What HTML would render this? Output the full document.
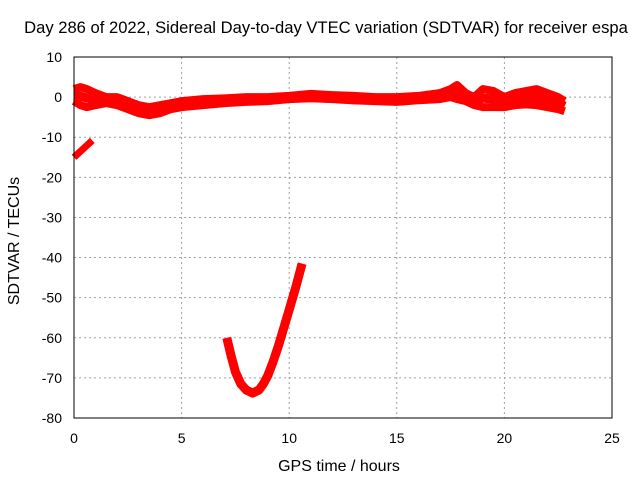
<!DOCTYPE html>
<html><head><meta charset="utf-8"><style>
body{margin:0;background:#fff}
svg text{font-family:"Liberation Sans",sans-serif;font-size:14px;fill:#000}
</style></head><body>
<svg width="640" height="480">
<rect width="640" height="480" fill="#fff"/>
<g id="grid"></g>
<g id="ticks"></g>
<g id="series"></g>
<rect x="74" y="57" width="538" height="361" fill="none" stroke="#000" stroke-width="1"/>
<text x="326" y="33" text-anchor="middle" style="font-size:16.6px">Day 286 of 2022, Sidereal Day-to-day VTEC variation (SDTVAR) for receiver espa</text>
<text x="339" y="471" text-anchor="middle" style="font-size:16px">GPS time / hours</text>
<text x="19" y="241" text-anchor="middle" transform="rotate(-90 19 241)" style="font-size:16px">SDTVAR / TECUs</text>
</svg>
<script>
const xTicks=[0,5,10,15,20,25];
const yTicks=[10,0,-10,-20,-30,-40,-50,-60,-70,-80];
const mainHours=[0,0.3,0.6,1,1.5,2,2.5,3,3.5,4,4.5,5,6,7,8,9,10,11,12,13,14,15,16,17,17.5,17.8,18.2,18.6,19,19.5,20,20.5,21,21.5,22,22.5,22.8];
const mainUpper=[2,2.5,2,1,0,0,-1,-2,-2.5,-2,-1.5,-1,-0.5,-0.3,0,0,0.3,0.8,0.5,0.3,0,0,0.3,1,2,3,1,0,2,1.5,0,1,1.5,2,1,0,-1];
const mainLower=[-1,-2,-2.5,-2,-1.5,-2,-3,-4,-4.5,-4,-3,-2.5,-2,-1.5,-1.2,-1,-0.5,-0.3,-0.5,-0.8,-1,-1.2,-0.8,-0.5,0,-0.5,-1,-2,-2.5,-2.5,-2.5,-2,-1.8,-2,-2.5,-3,-3.5];
const segHours=[0,0.85];
const segValues=[-15,-10.8];
const dipHours=[7.1,7.3,7.5,7.75,8,8.3,8.6,8.8,9,9.25,9.5,9.75,10,10.3,10.6];
const dipValues=[-60,-64.5,-68.5,-71.5,-73,-73.8,-73,-71.5,-69.5,-66,-62,-57.5,-53,-47.5,-41.5];
const NS="http://www.w3.org/2000/svg";
const X=h=>74+h*538/25, Y=v=>57+(10-v)*361/90;
const grid=document.getElementById('grid'),ticks=document.getElementById('ticks'),ser=document.getElementById('series');
function mk(t,a,p){const e=document.createElementNS(NS,t);for(const k in a)e.setAttribute(k,a[k]);p.appendChild(e);return e;}
xTicks.forEach(t=>{const x=X(t);
 if(t>0&&t<25){const g=mk('line',{x1:x,x2:x,y1:57,y2:418,stroke:'#a0a0a0','stroke-dasharray':'2,3'},grid);
 
 }
 const l=mk('text',{x:x,y:443,'text-anchor':'middle'},ticks);l.textContent=t;
 
 
});
yTicks.forEach(t=>{const y=Y(t);
 if(t<10&&t>-80){const g=mk('line',{x1:74,x2:612,y1:y,y2:y,stroke:'#a0a0a0','stroke-dasharray':'2,3'},grid);
 
 }
 const l=mk('text',{x:62,y:y+5,'text-anchor':'end'},ticks);l.textContent=t;
 
 
});
function line(hs,vs,w,name){const p=mk('polyline',{points:hs.map((h,i)=>X(h)+','+Y(vs[i])).join(' '),fill:'none',stroke:'#ff0000','stroke-width':w,'stroke-linejoin':'round','stroke-linecap':'butt'},ser);
 
 }
line(mainHours,mainUpper,8,'sdtvar-upper-trace');
line(mainHours,mainLower,8,'sdtvar-lower-trace');
line(mainHours,mainHours.map((h,i)=>(mainUpper[i]+mainLower[i])/2),9,'sdtvar-mid-trace');
line(segHours,segValues,7,'sdtvar-short-segment');
line(dipHours,dipValues,9,'sdtvar-dip-trace');
</script>
</body></html>
